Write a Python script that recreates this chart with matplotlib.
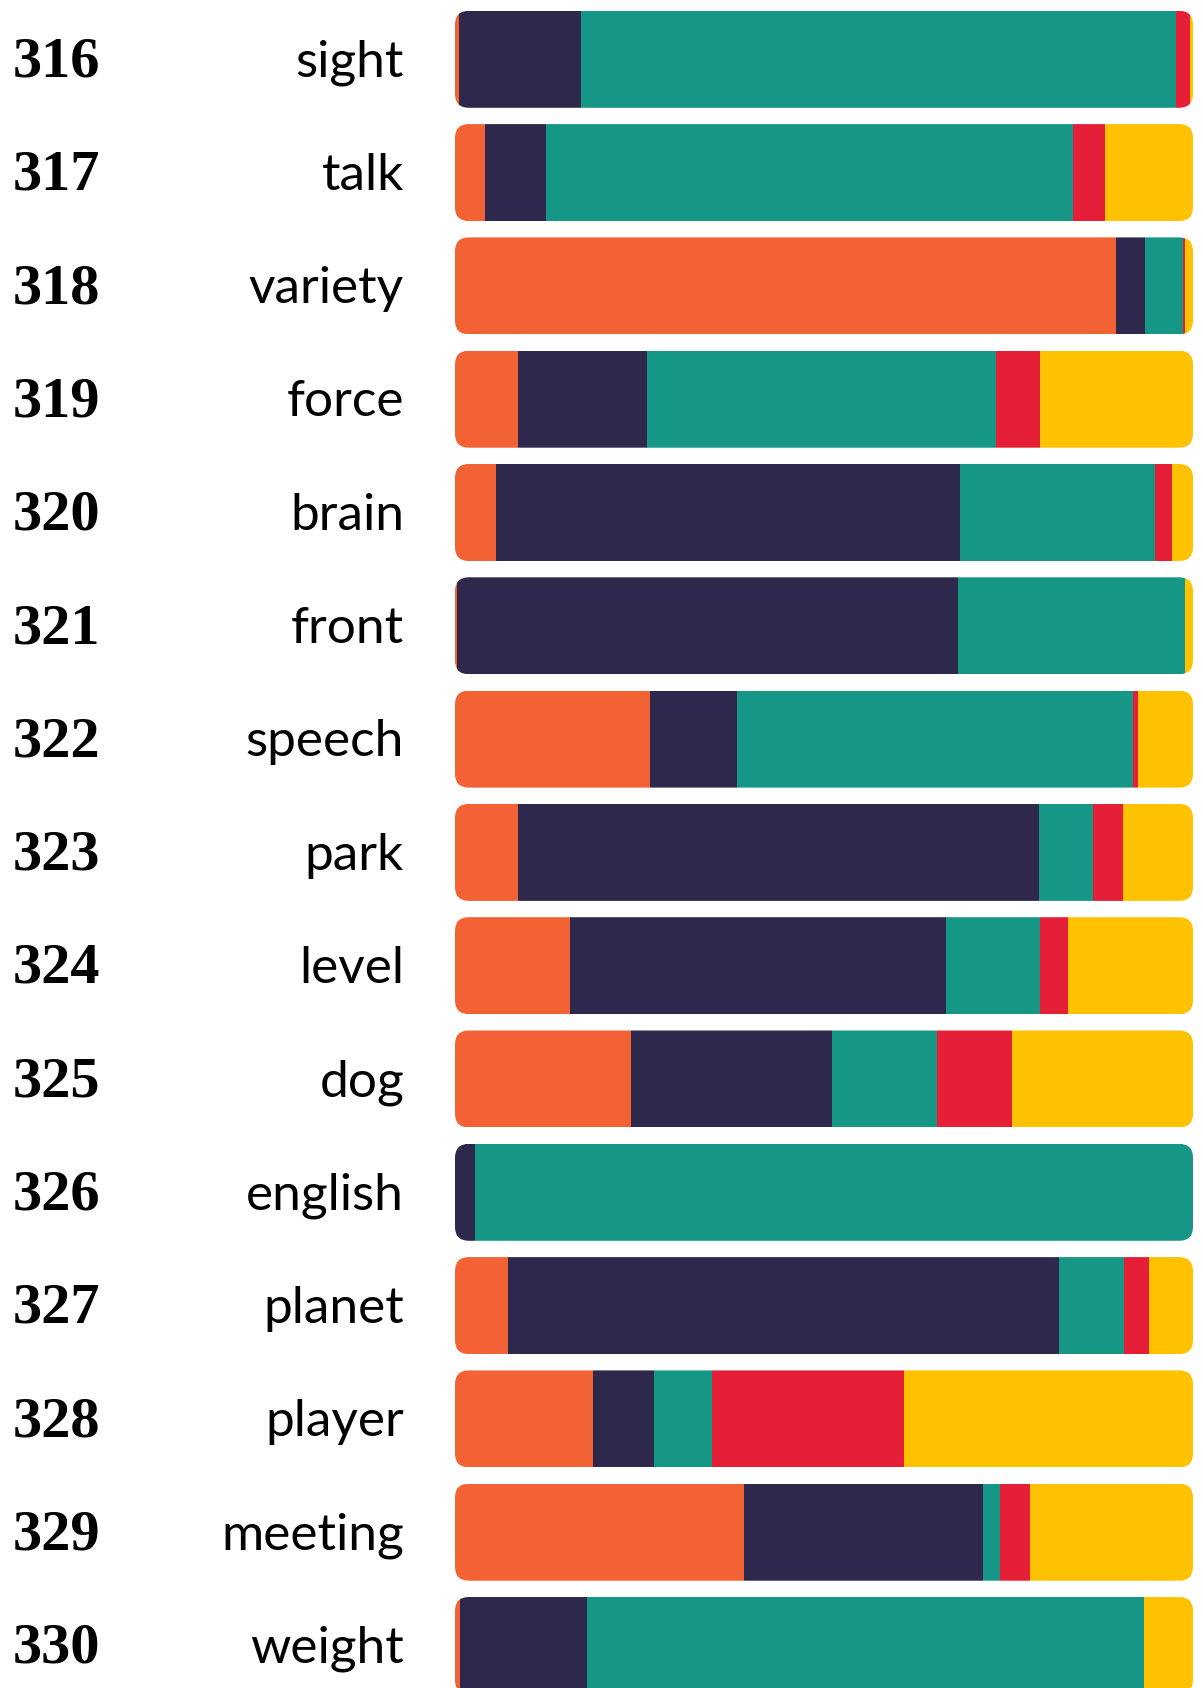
import matplotlib
matplotlib.use("Agg")
import matplotlib.pyplot as plt
import numpy as np
from matplotlib.patches import FancyBboxPatch
from matplotlib.transforms import blended_transform_factory

# rows, top to bottom
ranks = ["316", "317", "318", "319", "320", "321", "322", "323",
         "324", "325", "326", "327", "328", "329", "330"]
words = ["sight", "talk", "variety", "force", "brain", "front", "speech", "park",
         "level", "dog", "english", "planet", "player", "meeting", "weight"]

# share of each category (percent) per row
orange = [0.5, 4.1, 89.6, 8.6, 5.5, 0.3, 26.4, 8.5, 15.6, 23.8, 0.0, 7.2, 18.7, 39.1, 0.7]
navy = [16.6, 8.2, 3.9, 17.4, 62.9, 67.8, 11.8, 70.7, 50.9, 27.3, 2.7, 74.6, 8.2, 32.4, 17.2]
teal = [80.6, 71.4, 5.1, 47.3, 26.5, 30.8, 53.7, 7.2, 12.8, 14.2, 97.3, 8.9, 7.9, 2.3, 75.5]
red = [1.9, 4.4, 0.3, 6.0, 2.2, 0.0, 0.6, 4.1, 3.8, 10.2, 0.0, 3.4, 26.0, 4.1, 0.0]
yellow = [0.4, 11.9, 1.1, 20.7, 2.9, 1.1, 7.5, 9.5, 16.9, 24.5, 0.0, 5.9, 39.2, 22.1, 6.6]

series = [orange, navy, teal, red, yellow]
colors = ["#F26234", "#2E284D", "#169785", "#E41F37", "#FFC200"]

W, H = 1203, 1688
fig = plt.figure(figsize=(W / 100, H / 100), dpi=100)
fig.patch.set_facecolor("white")

x0, x1 = 455, 1193          # bar area in pixels
pitch, first = 113.3, 59.3  # row spacing / first row centre
ax = fig.add_axes([x0 / W, 0, (x1 - x0) / W, 1])
ax.set_xlim(0, 100)
ax.set_ylim((H - first) / pitch, -first / pitch)
ax.axis("off")

n = len(words)
y = np.arange(n)
bar_h = 97 / pitch

# rounded outline per row, used as clip path
rx = 14 * 100 / (x1 - x0)
aspect = (1 / pitch) / (100 / (x1 - x0))
clips = []
for i in range(n):
    p = FancyBboxPatch((0, i - bar_h / 2), 100, bar_h,
                       boxstyle=f"round,pad=0,rounding_size={rx}",
                       mutation_aspect=aspect, transform=ax.transData,
                       facecolor="none", edgecolor="none")
    ax.add_patch(p)
    clips.append(p)

left = np.zeros(n)
for vals, c in zip(series, colors):
    vals = np.array(vals)
    bars = ax.barh(y, vals, left=left, height=bar_h, color=c, linewidth=0)
    for i, b in enumerate(bars):
        b.set_clip_path(clips[i])
    left += vals

tr = blended_transform_factory(fig.transFigure, ax.transData)
off = 0.152
for i in range(n):
    ax.text(13 / W, i + off, ranks[i], transform=tr, ha="left", va="baseline",
            fontsize=42, fontweight="bold", family="Liberation Serif", color="black")
    ax.text(404 / W, i + off, words[i], transform=tr, ha="right", va="baseline",
            fontsize=37, family="Lato", color="black")

fig.savefig("out.png", dpi=100, facecolor="white")
